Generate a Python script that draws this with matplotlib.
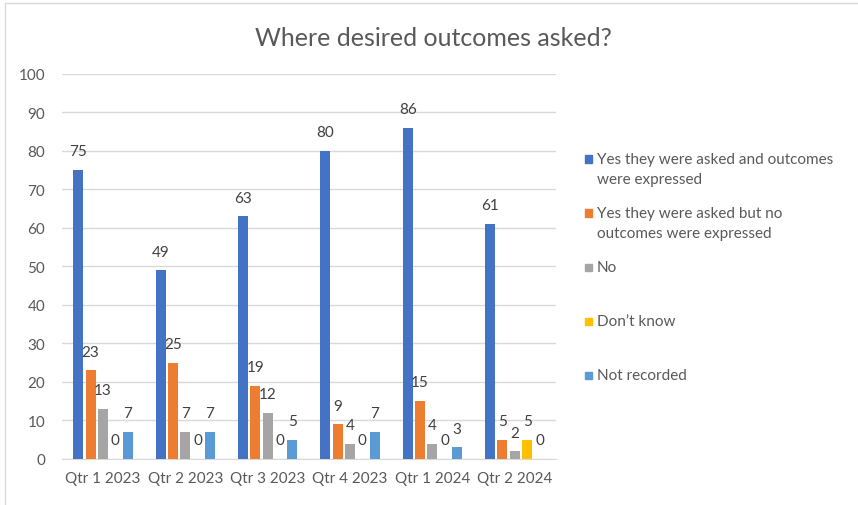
import matplotlib.pyplot as plt
from matplotlib.patches import Rectangle
from matplotlib.lines import Line2D
import numpy as np

plt.rcParams['font.family'] = ['Lato', 'DejaVu Sans']

quarters = ['Qtr 1 2023', 'Qtr 2 2023', 'Qtr 3 2023', 'Qtr 4 2023', 'Qtr 1 2024', 'Qtr 2 2024']
series_names = ['Yes they were asked and outcomes\nwere expressed',
                'Yes they were asked but no\noutcomes were expressed',
                'No',
                'Don\u2019t know',
                'Not recorded']
asked_expressed = [75, 49, 63, 80, 86, 61]
asked_not_expressed = [23, 25, 19, 9, 15, 5]
not_asked = [13, 7, 12, 4, 4, 2]
dont_know = [0, 0, 0, 0, 0, 5]
not_recorded = [7, 7, 5, 7, 3, 0]

series = [asked_expressed, asked_not_expressed, not_asked, dont_know, not_recorded]
colors = ['#4472C4', '#ED7D31', '#A5A5A5', '#FFC000', '#5B9BD5']

fig = plt.figure(figsize=(8.58, 5.06), dpi=100)
ax = fig.add_axes([0.072, 0.091, 0.576, 0.761])

x = np.arange(len(quarters))
step = 0.15
width = 0.122
for j, (vals, col) in enumerate(zip(series, colors)):
    bars = ax.bar(x + (j - 2) * step, vals, width, color=col, zorder=3)
    for b, v in zip(bars, vals):
        ax.annotate(str(v), (b.get_x() + b.get_width() / 2, v),
                    xytext=(0, 13.5), textcoords='offset points',
                    ha='center', va='center', fontsize=11, color='#404040')

ax.set_xlim(-0.5, len(quarters) - 0.5)
ax.set_ylim(0, 100)
ax.set_yticks(range(0, 101, 10))
ax.set_xticks(x)
ax.set_xticklabels(quarters)
ax.grid(axis='y', color='#D9D9D9', linewidth=1, zorder=0)
for s in ['top', 'right', 'left']:
    ax.spines[s].set_visible(False)
ax.spines['bottom'].set_color('#D9D9D9')
ax.tick_params(axis='both', length=0, labelsize=11, labelcolor='#595959')
ax.tick_params(axis='y', pad=12)
ax.tick_params(axis='x', pad=9)

fig.text(0.505, 0.924, 'Where desired outcomes asked?', ha='center', va='center',
         fontsize=18, color='#595959')

# legend drawn by hand so every entry gets the same slot height
leg_x = 585 / 858
leg_top = 160
slot = 54
for j, (name, col) in enumerate(zip(series_names, colors)):
    yc = 1 - (leg_top + j * slot) / 506
    fig.patches.append(Rectangle((leg_x, yc - 3.5 / 506), 7 / 858, 7 / 506,
                                 transform=fig.transFigure, color=col))
    fig.text(leg_x + 12 / 858, yc + 7 / 506, name, ha='left', va='top',
             fontsize=11, color='#595959', linespacing=1.55)

# chart area border
fig.add_artist(Line2D([5 / 858, 5 / 858], [0, 1 - 4 / 506], color='#D9D9D9', lw=1,
                      transform=fig.transFigure))
fig.add_artist(Line2D([5 / 858, 1], [1 - 4 / 506, 1 - 4 / 506], color='#D9D9D9', lw=1,
                      transform=fig.transFigure))

fig.savefig('out.png', dpi=100)
